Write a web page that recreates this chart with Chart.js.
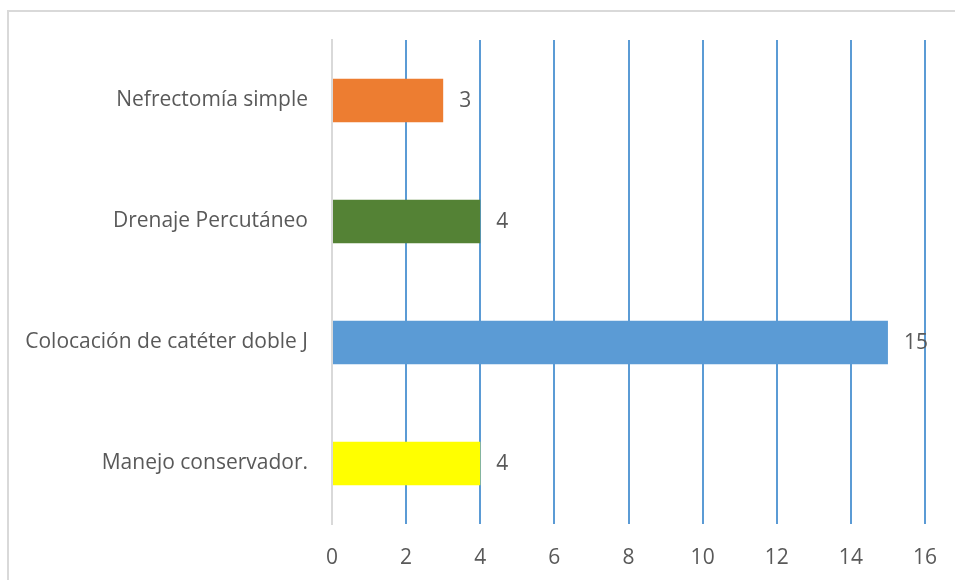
<!DOCTYPE html>
<html>
<head>
<meta charset="utf-8">
<script src="https://cdn.jsdelivr.net/npm/chart.js@4"></script>
<style>
    html, body { margin: 0; padding: 0; background: #fff; }
    #wrap { position: relative; width: 955px; height: 580px; overflow: hidden; }
    #frame {
        position: absolute; left: 7px; top: 10px;
        width: 1000px; height: 600px;
        border: 2px solid #d9d9d9; box-sizing: border-box;
    }
    canvas { position: absolute; left: 0; top: 0; }
</style>
</head>
<body>
<div id="wrap">
    <div id="frame"></div>
    <canvas id="chart" width="955" height="580"></canvas>
</div>
<script>
const categories = [
    'Nefrectomía simple',
    'Drenaje Percutáneo',
    'Colocación de catéter doble J',
    'Manejo conservador.'
];
const values = [3, 4, 15, 4];
const barColors = ['#ED7D31', '#548235', '#5B9BD5', '#FFFF00'];
const xMin = 0;
const xMax = 16;
const xStep = 2;

const textColor = '#595959';
const fontFamily = '"Open Sans", sans-serif';

// value labels to the right of each bar
const valueLabels = {
    id: 'valueLabels',
    afterDatasetsDraw(chart) {
        const ctx = chart.ctx;
        const meta = chart.getDatasetMeta(0);
        ctx.save();
        ctx.fillStyle = textColor;
        ctx.font = '21px ' + fontFamily;
        ctx.textAlign = 'left';
        ctx.textBaseline = 'middle';
        meta.data.forEach((bar, i) => {
            ctx.fillText(String(values[i]), bar.x + 16, bar.y + 1);
        });
        ctx.restore();
    }
};

new Chart(document.getElementById('chart'), {
    type: 'bar',
    data: {
        labels: categories,
        datasets: [{
            data: values,
            backgroundColor: barColors,
            borderWidth: 0,
            categoryPercentage: 1,
            barPercentage: 0.36
        }]
    },
    options: {
        indexAxis: 'y',
        responsive: false,
        animation: false,
        layout: {
            autoPadding: false,
            padding: { left: 0, right: 0, top: 40, bottom: 0 }
        },
        plugins: {
            legend: { display: false },
            tooltip: { enabled: false }
        },
        scales: {
            x: {
                min: xMin,
                max: xMax,
                ticks: {
                    stepSize: xStep,
                    color: textColor,
                    padding: 21,
                    font: { family: fontFamily, size: 21 }
                },
                grid: {
                    drawTicks: false,
                    lineWidth: 2,
                    color: (c) => c.tick && c.tick.value === 0 ? '#d9d9d9' : '#5B9BD5'
                },
                border: { display: false },
                afterFit(scale) {
                    scale.height = 56;
                    scale.paddingLeft = 0;
                    scale.paddingRight = 30;
                }
            },
            y: {
                ticks: {
                    color: textColor,
                    padding: 16,
                    font: { family: fontFamily, size: 21 }
                },
                grid: { display: false },
                border: { display: true, color: '#d9d9d9', width: 2 },
                afterFit(scale) {
                    scale.width = 332;
                }
            }
        }
    },
    plugins: [valueLabels]
});
</script>
</body>
</html>
